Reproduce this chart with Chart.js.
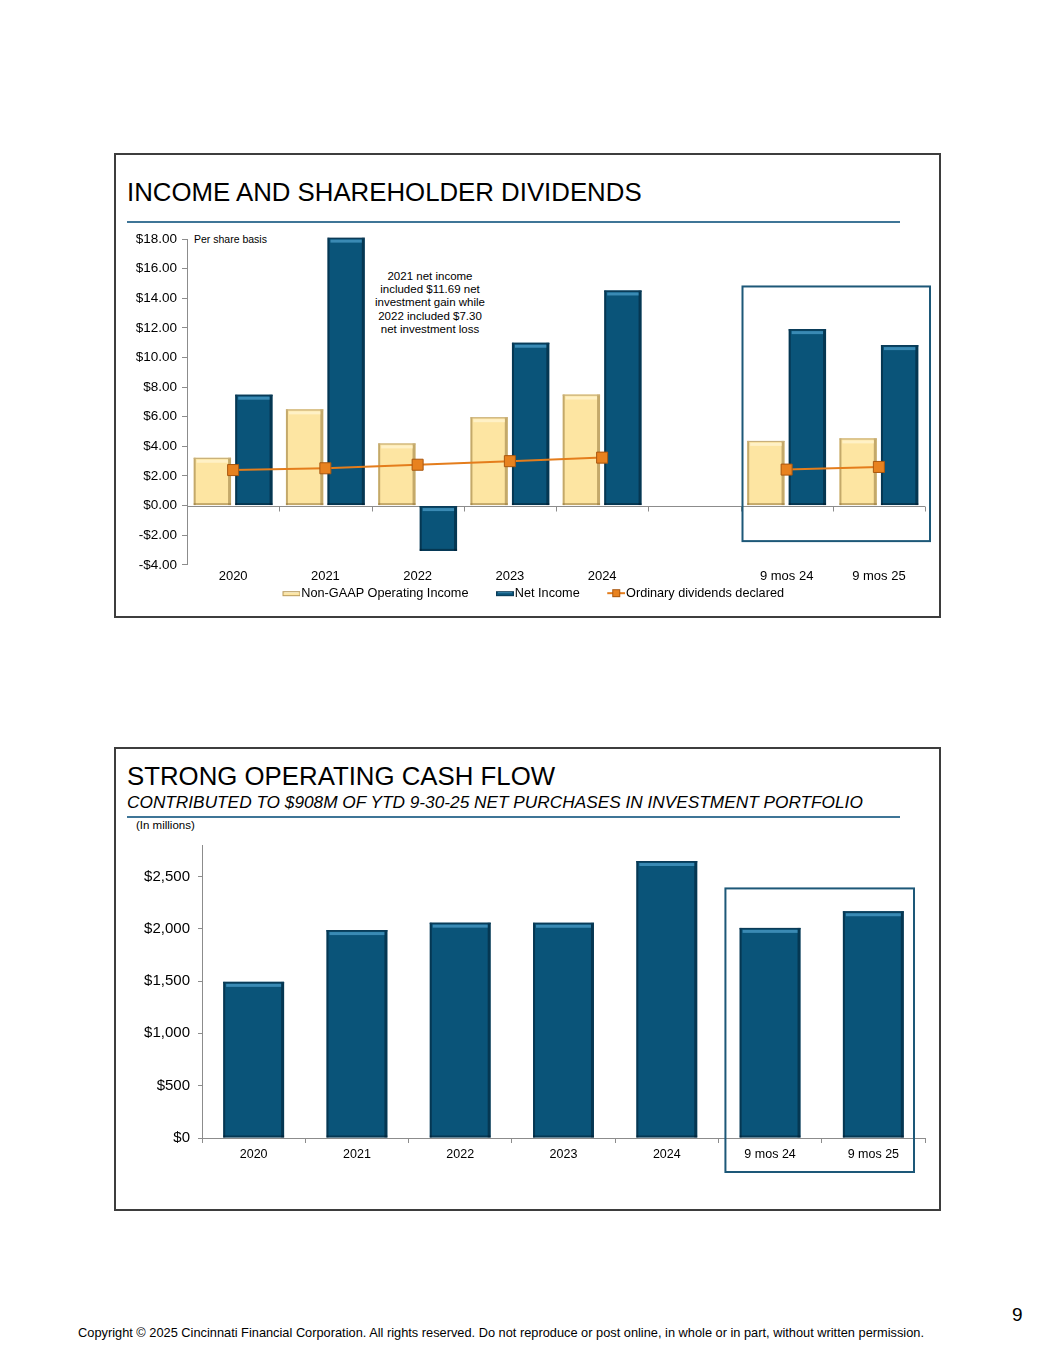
<!DOCTYPE html>
<html>
<head>
<meta charset="utf-8">
<script src="https://cdn.jsdelivr.net/npm/chart.js@4/dist/chart.umd.min.js"></script>
<style>
  html, body { margin:0; padding:0; background:#fff; }
  body { width:1055px; height:1365px; position:relative; overflow:hidden; font-family:"Liberation Sans", Arial, sans-serif; color:#000; }
  .frame { position:absolute; box-sizing:border-box; border:2px solid #3d3d3d; background:#fff; }
  .title { position:absolute; left:127px; font-size:25.8px; line-height:26px; white-space:nowrap; }
  .subtitle { position:absolute; left:127px; font-size:17.25px; line-height:18px; font-style:italic; white-space:nowrap; }
  .rule { position:absolute; left:127px; width:773px; height:1.5px; background:#3f7597; }
  .note { position:absolute; font-size:11.5px; line-height:13.2px; text-align:center; white-space:nowrap; }
  .small { position:absolute; font-size:10.5px; line-height:12px; white-space:nowrap; }
  canvas { position:absolute; }
  .footer { position:absolute; left:1px; width:1000px; top:1326px; text-align:center; font-size:12.8px; line-height:14px; white-space:nowrap; }
  .page { position:absolute; left:1012px; top:1305px; font-size:19px; line-height:20px; }
</style>
</head>
<body>
<!-- Top panel -->
<div class="frame" style="left:114px; top:153px; width:827px; height:465px;"></div>
<div class="title" style="top:179px;">INCOME AND SHAREHOLDER DIVIDENDS</div>
<div class="rule" style="top:221px;"></div>
<div class="small" style="left:194px; top:233px;">Per share basis</div>
<div class="note" style="left:360px; width:140px; top:270px;">2021 net income<br>included $11.69 net<br>investment gain while<br>2022 included $7.30<br>net investment loss</div>
<canvas id="c1" width="823" height="385" style="left:116px; top:226px; width:823px; height:385px;"></canvas>

<!-- Bottom panel -->
<div class="frame" style="left:114px; top:747px; width:827px; height:464px;"></div>
<div class="title" style="top:763px;">STRONG OPERATING CASH FLOW</div>
<div class="subtitle" style="top:793px;">CONTRIBUTED TO $908M OF YTD 9-30-25 NET PURCHASES IN INVESTMENT PORTFOLIO</div>
<div class="rule" style="top:816px;"></div>
<div class="small" style="left:136px; top:819px; font-size:11.5px;">(In millions)</div>
<canvas id="c2" width="823" height="375" style="left:116px; top:828px; width:823px; height:375px;"></canvas>

<div class="page">9</div>
<div class="footer">Copyright © 2025 Cincinnati Financial Corporation. All rights reserved. Do not reproduce or post online, in whole or in part, without written permission.</div>

<script>
// ---------------- DATA ----------------
const incomeCategories = ['2020', '2021', '2022', '2023', '2024', '', '9 mos 24', '9 mos 25'];
const nonGaapOperatingIncome = [3.23, 6.50, 4.20, 5.97, 7.50, null, 4.37, 4.54];
const netIncome = [7.49, 18.10, -3.06, 11.00, 14.53, null, 11.92, 10.84];
const ordinaryDividends = [2.40, 2.52, 2.76, 3.00, 3.24, null, 2.43, 2.61];
const incomeTickValues = [-4, -2, 0, 2, 4, 6, 8, 10, 12, 14, 16, 18];

const cashCategories = ['2020', '2021', '2022', '2023', '2024', '9 mos 24', '9 mos 25'];
const operatingCashFlow = [1492, 1987, 2058, 2057, 2647, 2008, 2167];
const cashTickValues = [0, 500, 1000, 1500, 2000, 2500];
const cashAxisMax = 2800;

// ---------------- STYLE ----------------
const FONT = "'Liberation Sans', Arial, sans-serif";
const AXIS = '#8c8c8c';
const NAVY = '#0a5479';
const CREAM = '#fde5a2';
const ORANGE = '#e47d1c';

// bevel effect on bars
const bevelPlugin = {
  id: 'bevel',
  afterDatasetDraw(chart, args) {
    const meta = args.meta;
    if (meta.type !== 'bar') return;
    const ds = chart.data.datasets[args.index];
    const dark = ds.bevel === 'dark';
    const ctx = chart.ctx;
    ctx.save();
    meta.data.forEach((el, i) => {
      if (ds.data[i] === null || ds.data[i] === undefined) return;
      const p = el.getProps(['x', 'y', 'base', 'width'], true);
      const l = p.x - p.width / 2, r = p.x + p.width / 2;
      const t = Math.min(p.y, p.base), b = Math.max(p.y, p.base);
      if (dark) {
        ctx.fillStyle = 'rgba(0,20,35,0.45)';
        ctx.fillRect(l, t, 2, b - t);
        ctx.fillRect(r - 3, t, 3, b - t);
        ctx.fillRect(l, b - 2, r - l, 2);
        ctx.fillStyle = '#0b3b57';
        ctx.fillRect(l, t, r - l, 1.5);
        ctx.fillStyle = '#3a8ab4';
        ctx.fillRect(l + 3, t + 2, r - l - 6, 3);
      } else {
        ctx.fillStyle = 'rgba(150,120,60,0.55)';
        ctx.fillRect(l, t, 2, b - t);
        ctx.fillRect(r - 3, t, 3, b - t);
        ctx.fillRect(l, b - 2, r - l, 2);
        ctx.fillStyle = '#c9b07a';
        ctx.fillRect(l, t, r - l, 1.2);
        ctx.fillStyle = '#fff1c6';
        ctx.fillRect(l + 3, t + 2, r - l - 6, 3);
      }
    });
    ctx.restore();
  }
};

// zero axis line with category tick marks (top chart)
const zeroAxisPlugin = {
  id: 'zeroAxis',
  beforeDatasetsDraw(chart, args, opts) {
    if (!opts || !opts.enabled) return;
    const x = chart.scales.x, y = chart.scales.y;
    const y0 = Math.round(y.getPixelForValue(0)) + 0.5;
    const ctx = chart.ctx;
    const n = chart.data.labels.length;
    const cw = (x.right - x.left) / n;
    ctx.save();
    ctx.strokeStyle = AXIS;
    ctx.lineWidth = 1;
    ctx.beginPath();
    ctx.moveTo(x.left, y0); ctx.lineTo(x.right, y0);
    for (let i = 1; i <= n; i++) {
      const xx = Math.round(x.left + i * cw) + 0.5;
      ctx.moveTo(xx, y0); ctx.lineTo(xx, y0 + 5);
    }
    ctx.stroke();
    ctx.restore();
  }
};

// highlight frame around the 9-month comparison
const highlightPlugin = {
  id: 'highlight',
  afterDraw(chart, args, opts) {
    if (!opts || opts.fromIndex === undefined) return;
    const x = chart.scales.x, y = chart.scales.y;
    const n = chart.data.labels.length;
    const cw = (x.right - x.left) / n;
    const left = x.left + opts.fromIndex * cw + opts.leftInset;
    const right = x.right + opts.rightOffset;
    const top = y.getPixelForValue(opts.topValue);
    const bottom = opts.bottomValue !== undefined ? y.getPixelForValue(opts.bottomValue) : y.bottom + opts.bottomOffset;
    const ctx = chart.ctx;
    ctx.save();
    ctx.strokeStyle = '#1d5878';
    ctx.lineWidth = 2;
    ctx.strokeRect(left, top, right - left, bottom - top);
    ctx.restore();
  }
};

// legend icons (icon sits at the right end of a wider transparent image)
const LEGEND_W = 38;
function makeIcon(kind) {
  const Wi = LEGEND_W + 11, H = 12, iw = 18, x0 = Wi - iw;
  const c = document.createElement('canvas');
  c.width = Wi; c.height = H;
  const g = c.getContext('2d');
  if (kind === 'line') {
    g.strokeStyle = ORANGE; g.lineWidth = 2;
    g.beginPath(); g.moveTo(x0, 6); g.lineTo(Wi, 6); g.stroke();
    g.fillStyle = '#e8821f'; g.fillRect(x0 + 5, 2, 8, 8);
    g.strokeStyle = '#a9570f'; g.lineWidth = 1; g.strokeRect(x0 + 5.5, 2.5, 7, 7);
  } else {
    g.fillStyle = kind === 'dark' ? NAVY : CREAM;
    g.fillRect(x0, 4, iw, 5);
    g.strokeStyle = kind === 'dark' ? '#0b3b57' : '#b89a5e';
    g.lineWidth = 1; g.strokeRect(x0 + 0.5, 4.5, iw - 1, 4);
    g.fillStyle = kind === 'dark' ? '#3a8ab4' : '#fff4cf';
    g.fillRect(x0 + 2, 5, iw - 4, 1);
  }
  return c;
}
const legendIcons = [makeIcon('light'), makeIcon('dark'), makeIcon('line')];

Chart.defaults.font.family = FONT;
Chart.defaults.color = '#000';
Chart.defaults.animation = false;

// ---------------- TOP CHART ----------------
new Chart(document.getElementById('c1'), {
  type: 'bar',
  data: {
    labels: incomeCategories,
    datasets: [
      { label: 'Non-GAAP Operating Income', data: nonGaapOperatingIncome, backgroundColor: CREAM, bevel: 'light',
        categoryPercentage: 0.9, barPercentage: 0.9, borderWidth: 0 },
      { label: 'Net Income', data: netIncome, backgroundColor: NAVY, bevel: 'dark',
        categoryPercentage: 0.9, barPercentage: 0.9, borderWidth: 0 },
      { type: 'line', label: 'Ordinary dividends declared', data: ordinaryDividends, order: -1,
        borderColor: ORANGE, borderWidth: 2, backgroundColor: ORANGE, pointStyle: 'rect',
        pointRadius: 7.8, pointBorderColor: '#a9570f', pointBorderWidth: 1, pointBackgroundColor: '#e8821f',
        spanGaps: false, tension: 0 }
    ]
  },
  options: {
    responsive: false,
    layout: { padding: { left: 0, right: 14, top: 12, bottom: 1.5 } },
    plugins: {
      legend: {
        position: 'bottom',
        labels: {
          usePointStyle: true, pointStyleWidth: LEGEND_W, padding: 2,
          font: { size: 12.7, family: FONT }, color: '#000',
          sort: (a, b) => a.datasetIndex - b.datasetIndex,
          generateLabels(chart) {
            const items = Chart.defaults.plugins.legend.labels.generateLabels(chart);
            items.forEach(it => { it.pointStyle = legendIcons[it.datasetIndex]; });
            return items;
          }
        }
      },
      tooltip: { enabled: false },
      zeroAxis: { enabled: true },
      highlight: { fromIndex: 6, leftInset: 2, rightOffset: 5, topValue: 14.8, bottomValue: -2.4 }
    },
    scales: {
      x: {
        grid: { display: false, drawTicks: false },
        border: { display: false },
        ticks: { padding: 4, font: { size: 13, family: FONT }, color: '#000', maxRotation: 0, autoSkip: false },
        afterFit(s) { s.height = 20; }
      },
      y: {
        min: incomeTickValues[0], max: incomeTickValues[incomeTickValues.length - 1],
        afterBuildTicks(s) { s.ticks = incomeTickValues.map(v => ({ value: v })); },
        ticks: { padding: 5, font: { size: 13.5, family: FONT }, color: '#000', autoSkip: false,
          callback: v => (v < 0 ? '-$' : '$') + Math.abs(v).toFixed(2) },
        grid: { drawOnChartArea: false, drawTicks: true, tickLength: 5, color: AXIS },
        border: { display: true, color: AXIS },
        afterFit(s) { s.width = 71; }
      }
    }
  },
  plugins: [bevelPlugin, zeroAxisPlugin, highlightPlugin]
});

// ---------------- BOTTOM CHART ----------------
new Chart(document.getElementById('c2'), {
  type: 'bar',
  data: {
    labels: cashCategories,
    datasets: [
      { label: 'Operating cash flow', data: operatingCashFlow, backgroundColor: NAVY, bevel: 'dark',
        categoryPercentage: 1, barPercentage: 0.59, borderWidth: 0 }
    ]
  },
  options: {
    responsive: false,
    layout: { padding: { left: 0, right: 14, top: 12, bottom: 0 } },
    plugins: {
      legend: { display: false },
      tooltip: { enabled: false },
      highlight: { fromIndex: 5, leftInset: 7, rightOffset: -11, topValue: 2385, bottomOffset: 34 }
    },
    scales: {
      x: {
        grid: { display: true, drawOnChartArea: false, drawTicks: true, tickLength: 5, color: AXIS },
        border: { display: true, color: AXIS },
        ticks: { padding: 4, font: { size: 12.5, family: FONT }, color: '#000', maxRotation: 0, autoSkip: false },
        afterFit(s) { s.height = 65; }
      },
      y: {
        min: cashTickValues[0], max: cashAxisMax,
        afterBuildTicks(s) { s.ticks = cashTickValues.map(v => ({ value: v })); },
        ticks: { padding: 8, font: { size: 15, family: FONT }, color: '#000', autoSkip: false,
          callback: v => '$' + Number(v).toLocaleString('en-US') },
        grid: { drawOnChartArea: false, drawTicks: true, tickLength: 4, color: AXIS },
        border: { display: true, color: AXIS },
        afterFit(s) { s.width = 86; }
      }
    }
  },
  plugins: [bevelPlugin, highlightPlugin]
});
</script>
</body>
</html>
